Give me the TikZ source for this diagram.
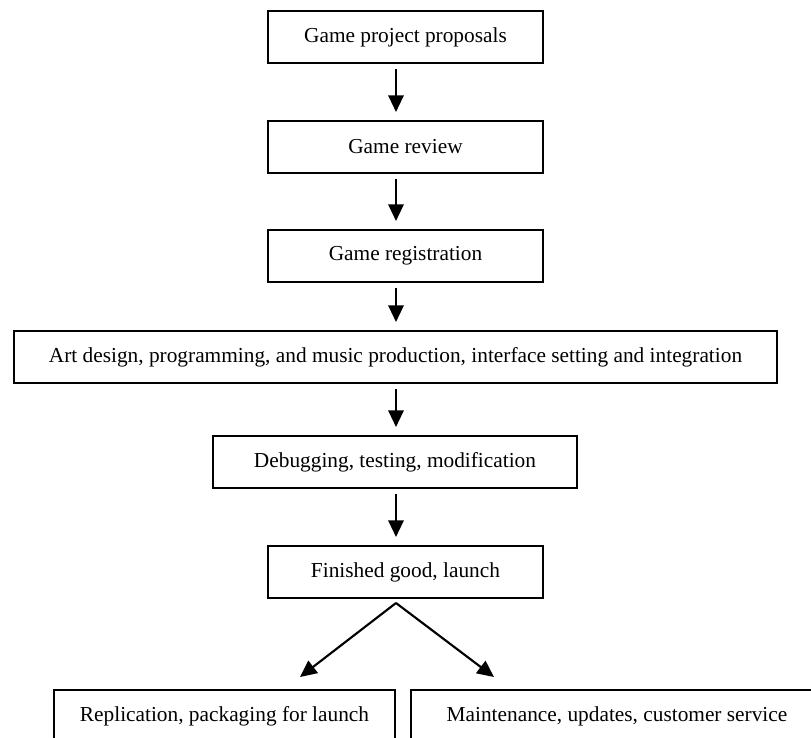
\documentclass[tikz,border=0pt]{standalone}
\usepackage{fontspec}
\setmainfont{Liberation Serif}
\usetikzlibrary{arrows.meta}
\begin{document}
\begin{tikzpicture}[x=0.75pt,y=-0.75pt,
  box/.style={draw=black,line width=1.5pt,inner sep=0pt,minimum height=52*0.75pt,font=\fontsize{16pt}{19pt}\selectfont,anchor=center},
  flow/.style={line width=1.6pt,-{Triangle[length=12.5pt,width=11.5pt]}}]
\useasboundingbox (0,0) rectangle (811,738);
\clip (0,0) rectangle (811,738);
\fill[white] (0,0) rectangle (811,738);
\coordinate (spine) at (396,0);
\node[box,minimum width=275*0.75pt] (a) at (405.5,37) {Game project proposals};
\node[box,minimum width=275*0.75pt] (b) at (405.5,147) {Game review};
\node[box,minimum width=275*0.75pt] (c) at (405.5,256) {Game registration};
\node[box,minimum width=763*0.75pt] (d) at (395.5,357) {Art design, programming, and music production, interface setting and integration};
\node[box,minimum width=364*0.75pt] (e) at (395,462) {Debugging, testing, modification};
\node[box,minimum width=275*0.75pt] (f) at (405.5,572) {Finished good, launch};
\node[box,minimum width=341*0.75pt] (g) at (224.5,716) {Replication, packaging for launch};
\node[box,minimum width=412*0.75pt] (h) at (617,716) {Maintenance, updates, customer service};
\coordinate (apex) at (396,603);
\coordinate (tipL) at (300,677);
\coordinate (tipR) at (494,677);
\draw[flow,shorten <=5*0.75pt,shorten >=8*0.75pt] (a.south -| spine) -- (b.north -| spine);
\draw[flow,shorten <=5*0.75pt,shorten >=8*0.75pt] (b.south -| spine) -- (c.north -| spine);
\draw[flow,shorten <=5*0.75pt,shorten >=8*0.75pt] (c.south -| spine) -- (d.north -| spine);
\draw[flow,shorten <=5*0.75pt,shorten >=8*0.75pt] (d.south -| spine) -- (e.north -| spine);
\draw[flow,shorten <=5*0.75pt,shorten >=8*0.75pt] (e.south -| spine) -- (f.north -| spine);
\draw[flow] (apex) -- (tipL);
\draw[flow] (apex) -- (tipR);
\end{tikzpicture}
\end{document}
